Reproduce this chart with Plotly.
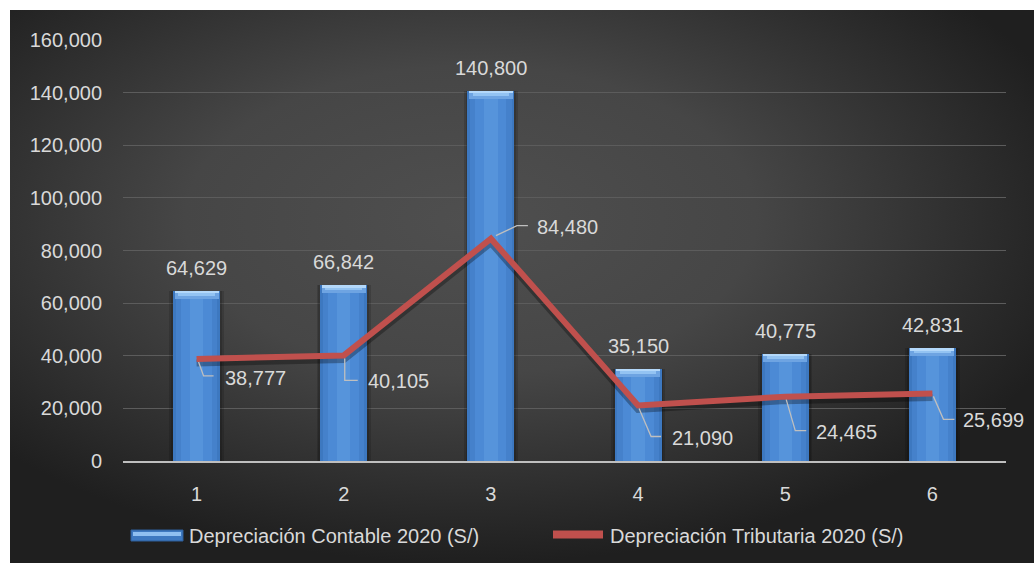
import base64
import plotly.graph_objects as go

# ---------------- data ----------------
categories = [1, 2, 3, 4, 5, 6]
contable = [64629, 66842, 140800, 35150, 40775, 42831]
tributaria = [38777, 40105, 84480, 21090, 24465, 25699]
name_contable = "Depreciación Contable 2020 (S/)"
name_tributaria = "Depreciación Tributaria 2020 (S/)"
y_ticks = [0, 20000, 40000, 60000, 80000, 100000, 120000, 140000, 160000]

# ---------------- layout constants (pixels) ----------------
W, H = 1034, 563
ML, MR, MT, MB = 123, 28, 40, 102
PW = W - ML - MR
PH = H - MT - MB
FONT = "Arial, Liberation Sans, sans-serif"
TXT = "#d9d9d9"


def px2x(px):
    return (px - ML) / PW


def py2y(py):
    return (H - MB - py) / PH


# background radial gradient as an svg image
svg = (
    '<svg xmlns="http://www.w3.org/2000/svg" width="1024" height="560" '
    'preserveAspectRatio="none" viewBox="0 0 1024 560">'
    '<defs><radialGradient id="g" cx="0.45" cy="0.38" r="0.62">'
    '<stop offset="0" stop-color="#4f4f4f"/>'
    '<stop offset="0.45" stop-color="#464646"/>'
    '<stop offset="1" stop-color="#1f1f1f"/>'
    '</radialGradient></defs>'
    '<rect x="0" y="0" width="1024" height="560" fill="url(#g)"/></svg>'
)
bg_src = "data:image/svg+xml;base64," + base64.b64encode(svg.encode()).decode()

fig = go.Figure()

# bars built in layers to imitate the bevelled gradient look
unit = 160000 / PH  # data units per pixel
bar_layers = [
    (0.37, "rgba(0,0,0,0.14)"),
    (0.345, "rgba(0,0,0,0.14)"),
    (0.32, "#3d78c0"),
    (0.28, "#4581cb"),
    (0.21, "#4c8ad5"),
    (0.09, "#5694db"),
]
for w, col in bar_layers:
    fig.add_trace(go.Bar(
        x=categories, y=contable, width=w, marker=dict(color=col, line=dict(width=0)),
        showlegend=False, hoverinfo="skip",
    ))
# top bevel highlight
fig.add_trace(go.Bar(
    x=categories, y=[8 * unit] * len(contable), base=[v - 8 * unit for v in contable],
    width=0.30, marker=dict(color="#6ea4e2", line=dict(width=0)), showlegend=False, hoverinfo="skip",
))
fig.add_trace(go.Bar(
    x=categories, y=[5 * unit] * len(contable), base=[v - 5 * unit for v in contable],
    width=0.25, marker=dict(color="#93c3f2", line=dict(width=0)), showlegend=False, hoverinfo="skip",
))
fig.add_trace(go.Bar(
    x=categories, y=[2.5 * unit] * len(contable), base=[v - 2.5 * unit for v in contable],
    width=0.30, marker=dict(color="#b3d8fa", line=dict(width=0)), showlegend=False, hoverinfo="skip",
))

# line with faint shadow
fig.add_trace(go.Scatter(
    x=categories, y=[v - 4 * unit for v in tributaria], mode="lines",
    line=dict(color="rgba(0,0,0,0.3)", width=7), showlegend=False, hoverinfo="skip",
))
fig.add_trace(go.Scatter(
    x=categories, y=tributaria, mode="lines",
    line=dict(color="#c0504d", width=6), name=name_tributaria, showlegend=False,
))

annotations = []
# bar value labels
for c, v in zip(categories, contable):
    annotations.append(dict(
        x=c, y=v, xref="x", yref="y", text=f"{v:,}", showarrow=False,
        yanchor="bottom", yshift=10, font=dict(family=FONT, size=20, color=TXT),
    ))

# line value labels with leader lines (pixel offsets: start, corner, end, text x, text y)
leader = [
    ((2, 3), (7, 17), (17, 17), 26, 19),
    ((1, 3), (1, 25), (14, 25), 22, 26),
    ((5, -3), (26, -13), (37, -13), 44, -12),
    ((1, 3), (13, 31), (23, 31), 32, 32),
    ((1, 3), (10, 34), (21, 34), 29, 35),
    ((1, 3), (11, 26), (22, 26), 29, 27),
]
shapes = [
    # white page margins (top and left strips)
    dict(type="rect", xref="paper", yref="paper", layer="below",
         x0=px2x(0), x1=px2x(W), y0=py2y(10), y1=py2y(0),
         fillcolor="white", line=dict(width=0)),
    dict(type="rect", xref="paper", yref="paper", layer="below",
         x0=px2x(0), x1=px2x(10), y0=py2y(H), y1=py2y(0),
         fillcolor="white", line=dict(width=0)),
]
for c, v, (s, k, e, tx, ty) in zip(categories, tributaria, leader):
    path = f"M{s[0]},{-s[1]} L{k[0]},{-k[1]} L{e[0]},{-e[1]}"
    shapes.append(dict(
        type="path", xref="x", yref="y", xsizemode="pixel", ysizemode="pixel",
        xanchor=c, yanchor=v, path=path, line=dict(color="#bfbfbf", width=1.3),
    ))
    annotations.append(dict(
        x=c, y=v, xref="x", yref="y", text=f"{v:,}", showarrow=False,
        xanchor="left", yanchor="middle", xshift=tx, yshift=-ty,
        font=dict(family=FONT, size=20, color=TXT),
    ))

# custom legend
shapes.append(dict(type="rect", xref="paper", yref="paper",
                   x0=px2x(131), x1=px2x(183), y0=py2y(541), y1=py2y(530),
                   fillcolor="#3d78c0", line=dict(color="#2f5f9a", width=1)))
shapes.append(dict(type="rect", xref="paper", yref="paper",
                   x0=px2x(133), x1=px2x(181), y0=py2y(536), y1=py2y(532),
                   fillcolor="#8fbff0", line=dict(width=0)))
shapes.append(dict(type="line", xref="paper", yref="paper",
                   x0=px2x(553), x1=px2x(603), y0=py2y(534.5), y1=py2y(534.5),
                   line=dict(color="#c0504d", width=8)))
annotations.append(dict(x=px2x(187), y=py2y(536), xref="paper", yref="paper",
                        text=name_contable, showarrow=False, xanchor="left", yanchor="middle",
                        font=dict(family=FONT, size=20, color=TXT)))
annotations.append(dict(x=px2x(608), y=py2y(536), xref="paper", yref="paper",
                        text=name_tributaria, showarrow=False, xanchor="left", yanchor="middle",
                        font=dict(family=FONT, size=20, color=TXT)))

fig.update_layout(
    width=W, height=H,
    margin=dict(l=ML, r=MR, t=MT, b=MB, pad=0),
    paper_bgcolor="#1f1f1f", plot_bgcolor="rgba(0,0,0,0)",
    barmode="overlay", bargap=0,
    showlegend=False,
    font=dict(family=FONT, size=20, color=TXT),
    images=[dict(source=bg_src, xref="paper", yref="paper",
                 x=px2x(10), y=py2y(10), sizex=(W - 10) / PW, sizey=(H - 10) / PH,
                 xanchor="left", yanchor="top", sizing="stretch", layer="below")],
    shapes=shapes,
    annotations=annotations,
    xaxis=dict(range=[0.5, 6.5], tickvals=categories, ticktext=[str(c) for c in categories],
               showgrid=False, zeroline=False, showline=True, linecolor="#bfbfbf", linewidth=2,
               ticks="outside", ticklen=14, tickcolor="rgba(0,0,0,0)",
               tickfont=dict(family=FONT, size=20, color=TXT), fixedrange=True),
    yaxis=dict(range=[0, 160000], tickvals=y_ticks, tickformat=",",
               showgrid=True, gridcolor="#5c5c5c", gridwidth=1, zeroline=False, showline=False,
               ticks="outside", ticklen=16, tickcolor="rgba(0,0,0,0)",
               tickfont=dict(family=FONT, size=20, color=TXT), fixedrange=True),
)

fig.write_html(
    "out.html",
    config={"displayModeBar": False},
    post_script=(
        "document.body.style.margin='0';document.body.style.overflow='hidden';"
        "document.body.style.background='linear-gradient(to right,#ffffff 10px,#222222 10px)';"
    ),
)
